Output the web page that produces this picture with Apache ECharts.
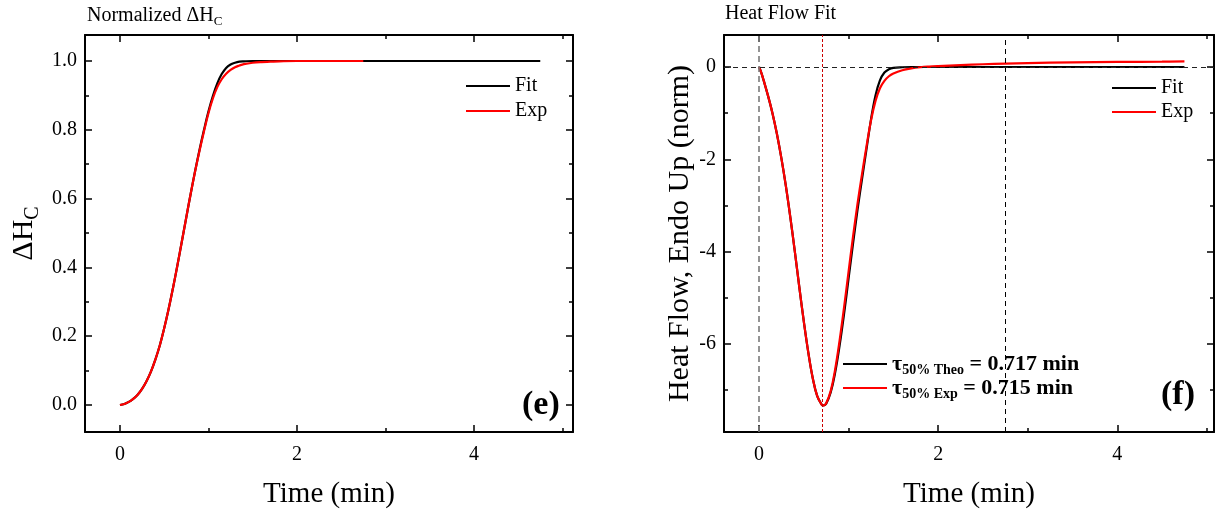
<!DOCTYPE html>
<html><head><meta charset="utf-8">
<script src="https://cdn.jsdelivr.net/npm/echarts@6/dist/echarts.min.js"></script>
<style>html,body{margin:0;padding:0;background:#fff}#c{width:1215px;height:514px}</style>
</head><body><div id="c"></div>
<script>
const FONT = '"Liberation Serif", "Times New Roman", serif';

// ---- Panel (e): Normalized ΔH_C ----
const dhFitTime  = [0,0.05,0.1,0.15,0.2,0.25,0.3,0.35,0.4,0.45,0.5,0.55,0.6,0.65,0.7,0.75,0.8,0.85,0.9,0.95,1.0,1.05,1.1,1.15,1.2,1.25,1.3,1.35,1.4,1.5,1.6,2.0,2.5,3.0,3.5,4.0,4.5,4.75];
const dhFitValue = [0,0.003,0.009,0.018,0.030,0.047,0.069,0.097,0.132,0.173,0.223,0.279,0.341,0.407,0.476,0.546,0.615,0.681,0.743,0.800,0.853,0.898,0.935,0.962,0.980,0.990,0.995,0.998,0.999,1.0,1.0,1.0,1.0,1.0,1.0,1.0,1.0,1.0];
const dhExpTime  = [0,0.05,0.1,0.15,0.2,0.25,0.3,0.35,0.4,0.45,0.5,0.55,0.6,0.65,0.7,0.75,0.8,0.85,0.9,0.95,1.0,1.05,1.1,1.15,1.2,1.25,1.3,1.35,1.4,1.5,1.6,1.7,1.8,2.0,2.25,2.5,2.75];
const dhExpValue = [0,0.003,0.009,0.018,0.030,0.047,0.069,0.097,0.132,0.173,0.223,0.279,0.341,0.407,0.476,0.546,0.615,0.680,0.740,0.796,0.848,0.891,0.924,0.947,0.963,0.974,0.982,0.987,0.991,0.995,0.997,0.998,0.999,1.0,1.0,1.0,1.0];

// ---- Panel (f): Heat flow fit ----
const hfFitTime  = [0,0.025,0.05,0.1,0.15,0.2,0.25,0.3,0.35,0.4,0.45,0.5,0.55,0.6,0.65,0.7,0.72,0.75,0.8,0.85,0.9,0.95,1.0,1.05,1.1,1.15,1.2,1.25,1.3,1.35,1.4,1.45,1.5,1.6,1.7,2.0,2.5,3.0,3.5,4.0,4.5,4.75];
const hfFitValue = [0,-0.12,-0.28,-0.62,-1.0,-1.45,-1.98,-2.58,-3.26,-4.0,-4.77,-5.51,-6.18,-6.74,-7.13,-7.31,-7.33,-7.29,-7.05,-6.62,-6.03,-5.34,-4.58,-3.82,-3.09,-2.43,-1.78,-1.14,-0.62,-0.29,-0.12,-0.05,-0.02,-0.005,0,0,0,0,0,0,0,0];
const hfExpTime  = [0,0.025,0.05,0.1,0.15,0.2,0.25,0.3,0.35,0.4,0.45,0.5,0.55,0.6,0.65,0.7,0.72,0.75,0.8,0.85,0.9,0.95,1.0,1.05,1.1,1.15,1.2,1.25,1.3,1.35,1.4,1.45,1.5,1.6,1.7,1.8,1.9,2.0,2.25,2.5,2.75,3.0,3.5,4.0,4.5,4.75];
const hfExpValue = [0,-0.12,-0.28,-0.62,-1.0,-1.45,-1.98,-2.58,-3.26,-4.0,-4.77,-5.51,-6.18,-6.74,-7.13,-7.31,-7.33,-7.28,-7.02,-6.55,-5.92,-5.2,-4.43,-3.67,-2.96,-2.32,-1.72,-1.16,-0.74,-0.46,-0.3,-0.2,-0.14,-0.07,-0.03,-0.005,0.01,0.02,0.04,0.06,0.075,0.085,0.1,0.11,0.115,0.12];

const tauTheo = 0.717;
const tauExp = 0.715;
const refLinesX = [0, 0.715, 2.75];
const refLineY = 0;

// ---- Tick values ----
const xMajor = [0, 2, 4];
const xMinor = [1, 3, 5];
const dhMajor = [0, 0.2, 0.4, 0.6, 0.8, 1.0];
const dhMinor = [0.1, 0.3, 0.5, 0.7, 0.9];
const hfMajor = [0, -2, -4, -6];
const hfMinor = [-1, -3, -5, -7];

const seriesNames = ['Fit', 'Exp'];
const tauNames = ['tauTheo', 'tauExp'];

const pairs = (xs, ys) => xs.map((x, i) => [x, ys[i]]);

function axis(grid, pos, min, max, values, len, line, label) {
  return {
    type: 'value', gridIndex: grid, position: pos, min: min, max: max,
    axisLine: { show: line, onZero: false, lineStyle: { color: '#000', width: 2 } },
    axisTick: { show: true, inside: true, length: len, customValues: values, lineStyle: { color: '#000', width: 1.5 } },
    axisLabel: label ? Object.assign({ show: true, customValues: values, fontFamily: FONT, fontSize: 20, color: '#000' }, label) : { show: false },
    splitLine: { show: false },
    minorTick: { show: false }
  };
}

const G = [
  { left: 85, top: 35, width: 488, height: 397, xmin: -0.395, xmax: 5.12, ymin: -0.0785, ymax: 1.0756 },
  { left: 724, top: 35, width: 490, height: 397, xmin: -0.391, xmax: 5.08, ymin: -7.905, ymax: 0.693 }
];

const xAxes = [], yAxes = [];
const nameStyle = { fontFamily: FONT, fontSize: 29, color: '#000' };
[0, 1].forEach(g => {
  const c = G[g];
  const xb = axis(g, 'bottom', c.xmin, c.xmax, xMajor, 7, true, { margin: 13, formatter: v => String(v) });
  xb.name = 'Time (min)'; xb.nameLocation = 'middle'; xb.nameGap = 48; xb.nameTextStyle = nameStyle;
  xAxes.push(xb);
  xAxes.push(axis(g, 'bottom', c.xmin, c.xmax, xMinor, 4, false, null));
  xAxes.push(axis(g, 'top', c.xmin, c.xmax, xMajor, 7, true, null));
  xAxes.push(axis(g, 'top', c.xmin, c.xmax, xMinor, 4, false, null));
  const maj = g === 0 ? dhMajor : hfMajor;
  const min = g === 0 ? dhMinor : hfMinor;
  const yl = axis(g, 'left', c.ymin, c.ymax, maj, 7, true, { margin: 8, formatter: g === 0 ? (v => v.toFixed(1)) : (v => String(v)) });
  yl.nameLocation = 'middle'; yl.nameRotate = 90;
  if (g === 0) {
    yl.name = '{m|ΔH}{s|C}'; yl.nameGap = 42;
    yl.nameTextStyle = { color: '#000', rich: { m: { fontFamily: FONT, fontSize: 30, color: '#000' }, s: { fontFamily: FONT, fontSize: 20, color: '#000', padding: [18, 0, 0, 0] } } };
  } else {
    yl.name = 'Heat Flow, Endo Up (norm)'; yl.nameGap = 26; yl.nameTextStyle = { fontFamily: FONT, fontSize: 30, color: '#000' };
  }
  yAxes.push(yl);
  yAxes.push(axis(g, 'left', c.ymin, c.ymax, min, 4, false, null));
  yAxes.push(axis(g, 'right', c.ymin, c.ymax, maj, 7, true, null));
  yAxes.push(axis(g, 'right', c.ymin, c.ymax, min, 4, false, null));
});

const lineBase = { type: 'line', showSymbol: false, symbol: 'none', smooth: 0.4, silent: true };

const series = [
  Object.assign({}, lineBase, { name: 'Fit', xAxisIndex: 0, yAxisIndex: 0, color: '#000', lineStyle: { color: '#000', width: 2.2 }, data: pairs(dhFitTime, dhFitValue) }),
  Object.assign({}, lineBase, { name: 'Exp', xAxisIndex: 0, yAxisIndex: 0, color: '#ff0000', lineStyle: { color: '#ff0000', width: 2.2 }, data: pairs(dhExpTime, dhExpValue) }),
  Object.assign({}, lineBase, {
    name: 'Fit', xAxisIndex: 4, yAxisIndex: 4, color: '#000', lineStyle: { color: '#000', width: 2.2 }, data: pairs(hfFitTime, hfFitValue), z: 3,
    markLine: {
      silent: true, symbol: 'none', label: { show: false }, animation: false,
      data: [
        { xAxis: refLinesX[0], lineStyle: { color: '#7a7a7a', type: [6, 4], width: 1.6 } },
        { xAxis: refLinesX[1], lineStyle: { color: '#cc0000', type: [3, 2], width: 1 } },
        { xAxis: refLinesX[2], lineStyle: { color: '#000', type: [5, 4], width: 1 } },
        { yAxis: refLineY, lineStyle: { color: '#222', type: [5, 4], width: 1 } }
      ]
    }
  }),
  Object.assign({}, lineBase, { name: 'Exp', xAxisIndex: 4, yAxisIndex: 4, color: '#ff0000', lineStyle: { color: '#ff0000', width: 2.2 }, data: pairs(hfExpTime, hfExpValue), z: 4 }),
  Object.assign({}, lineBase, { name: tauNames[0], xAxisIndex: 4, yAxisIndex: 4, color: '#000', data: [] }),
  Object.assign({}, lineBase, { name: tauNames[1], xAxisIndex: 4, yAxisIndex: 4, color: '#ff0000', data: [] })
];

const legText = { fontFamily: FONT, fontSize: 20, color: '#000' };
const tauRich = {
  b: { fontFamily: FONT, fontSize: 22, fontWeight: 'bold', color: '#000' },
  s: { fontFamily: FONT, fontSize: 14, fontWeight: 'bold', color: '#000', padding: [12, 0, 0, 0] }
};

const option = {
  animation: false,
  backgroundColor: '#fff',
  grid: G.map(c => ({ left: c.left, top: c.top, width: c.width, height: c.height, containLabel: false })),
  xAxis: xAxes,
  yAxis: yAxes,
  title: [
    { text: 'Normalized ΔH{s|C}', left: 87, top: 4, padding: 0, textStyle: { fontFamily: FONT, fontSize: 20, fontWeight: 'normal', color: '#000', rich: { s: { fontFamily: FONT, fontSize: 13, color: '#000', padding: [11, 0, 0, 0] } } } },
    { text: 'Heat Flow Fit', left: 725, top: 4, padding: 0, textStyle: { fontFamily: FONT, fontSize: 20, fontWeight: 'normal', color: '#000' } },
    { text: '(e)', left: 522, top: 388, padding: 0, textStyle: { fontFamily: FONT, fontSize: 34, fontWeight: 'bold', color: '#000' } },
    { text: '(f)', left: 1161, top: 378, padding: 0, textStyle: { fontFamily: FONT, fontSize: 34, fontWeight: 'bold', color: '#000' } }
  ],
  legend: [
    { data: seriesNames, orient: 'vertical', left: 466, top: 76, padding: 0, icon: 'rect', itemWidth: 44, itemHeight: 2, itemGap: 5, selectedMode: false, textStyle: legText },
    { data: seriesNames, orient: 'vertical', left: 1112, top: 78, padding: 0, icon: 'rect', itemWidth: 44, itemHeight: 2, itemGap: 4, selectedMode: false, textStyle: legText },
    { data: tauNames, orient: 'vertical', left: 843, top: 353, padding: 0, icon: 'rect', itemWidth: 44, itemHeight: 2, itemGap: 0, selectedMode: false,
      textStyle: { rich: tauRich },
      formatter: n => n === tauNames[0]
        ? '{b|τ}{s|50% Theo}{b| = ' + tauTheo.toFixed(3) + ' min}'
        : '{b|τ}{s|50% Exp}{b| = ' + tauExp.toFixed(3) + ' min}' }
  ],
  series: series
};

const chart = echarts.init(document.getElementById('c'), null, { renderer: 'canvas' });
chart.setOption(option);
</script>
</body></html>
